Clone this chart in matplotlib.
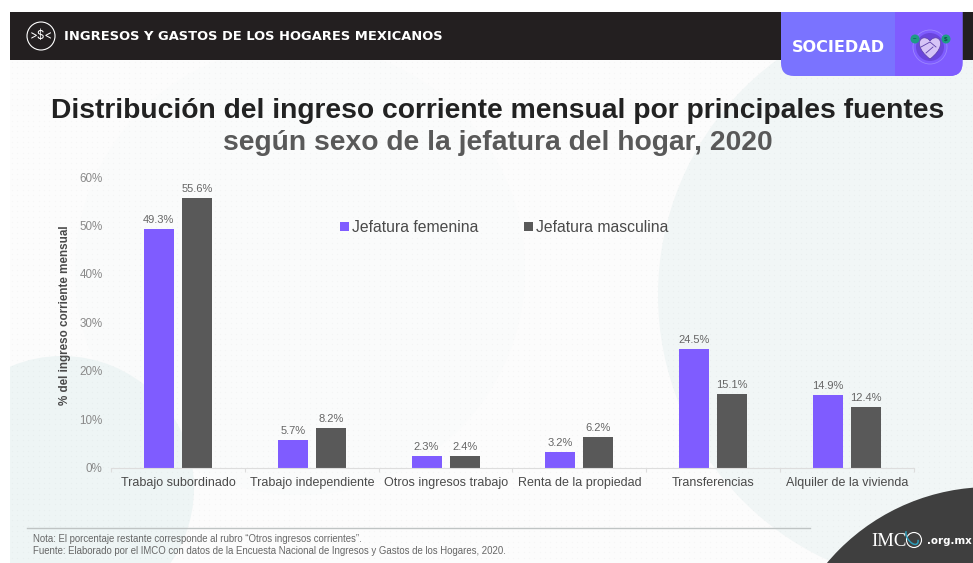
import matplotlib
matplotlib.use("Agg")
import matplotlib.pyplot as plt
from matplotlib.patches import Circle, Rectangle, FancyBboxPatch, Arc, PathPatch
from matplotlib.path import Path
import numpy as np

plt.rcParams['font.family'] = ['Liberation Sans', 'DejaVu Sans']

categories = ["Trabajo subordinado", "Trabajo independiente", "Otros ingresos trabajo",
              "Renta de la propiedad", "Transferencias", "Alquiler de la vivienda"]
jefatura_femenina = [49.3, 5.7, 2.3, 3.2, 24.5, 14.9]
jefatura_masculina = [55.6, 8.2, 2.4, 6.2, 15.1, 12.4]
y_ticks = [0, 10, 20, 30, 40, 50, 60]

PURPLE = "#7F5CFF"
GRAY = "#595959"
W, H = 973, 563

fig = plt.figure(figsize=(W / 100, H / 100), dpi=100, facecolor="white")

# Page layer in pixel coordinates, y pointing down
bg = fig.add_axes([0, 0, 1, 1], zorder=0)
bg.set_xlim(0, W)
bg.set_ylim(H, 0)
bg.axis("off")

page = Rectangle((10, 12), W - 10, H - 12, fc="#FCFCFC", ec="none")
bg.add_patch(page)
for (cx, cy, r, col) in [(300, 270, 225, "#FAFBFB"), (950, 295, 292, "#F1F6F6"),
                         (62, 488, 132, "#EEF5F5")]:
    c = Circle((cx, cy), r, fc=col, ec="none")
    bg.add_patch(c)
    c.set_clip_path(page)

# Faint dotted texture across the page
gx, gy = np.meshgrid(np.arange(12, W, 5.33), np.arange(62, H, 5.33))
bg.scatter(gx.ravel(), gy.ravel(), s=1.0, c="#000000", alpha=0.022, linewidths=0)

# Header band
bg.add_patch(Rectangle((10, 12), W - 10, 47.5, fc="#231F20", ec="none"))
bg.add_patch(Circle((41, 36), 14, fc="none", ec="white", lw=0.8))
bg.text(41, 36, ">$<", color="white", fontsize=8.5, ha="center", va="center", family="Inter")
bg.text(64, 36.5, "INGRESOS Y GASTOS DE LOS HOGARES MEXICANOS", color="white",
        fontsize=9.35, fontweight="bold", family="DejaVu Sans", va="center", ha="left")

# Section tab
tab = FancyBboxPatch((781, -10), 181.5, 86, boxstyle="round,pad=0,rounding_size=13",
                     fc="#7A73FF", ec="none", mutation_aspect=1)
bg.add_patch(tab)
dark_tab = Rectangle((895, 12), 70, 65, fc="#7F5CFF", ec="none")
bg.add_patch(dark_tab)
dark_tab.set_clip_path(tab)
bg.add_patch(Rectangle((760, 0), 213, 12, fc="white", ec="none"))
bg.text(838, 47, "SOCIEDAD", color="white", fontsize=11.6, fontweight="bold",
        family="DejaVu Sans", ha="center", va="center")

# Handshake badge: rings, heart and two coins
bg.add_patch(Circle((930, 47), 17, fc="none", ec="#9C86FF", lw=0.6))
bg.add_patch(Circle((930, 47), 14, fc="#6A45DD", ec="none"))
heart = Path([(930, 59), (918, 50), (917, 40), (923, 38), (928, 37), (930, 41), (930, 41),
              (930, 41), (932, 37), (937, 38), (943, 40), (942, 50), (930, 59)],
             [Path.MOVETO, Path.CURVE4, Path.CURVE4, Path.CURVE4, Path.CURVE4, Path.CURVE4, Path.CURVE4,
              Path.CURVE4, Path.CURVE4, Path.CURVE4, Path.CURVE4, Path.CURVE4, Path.CURVE4])
bg.add_patch(PathPatch(heart, fc="#D6C4F7", ec="#5B3FA8", lw=0.5))
bg.plot([921, 930, 936], [47, 42, 47], color="#5B3FA8", lw=0.6)
bg.plot([926, 933], [53, 47], color="#5B3FA8", lw=0.6)
for cx, mark in [(915, "\u2013"), (946, "$")]:
    bg.add_patch(Circle((cx, 39), 4.5, fc="#1E9C85", ec="none"))
    bg.text(cx, 39, mark, color="#0D4F45", fontsize=4.5, fontweight="bold", ha="center", va="center")

# Titles
bg.text(498, 111, "Distribución del ingreso corriente mensual por principales fuentes",
        fontsize=20.3, fontweight="bold", color="#222222", ha="center", va="center")
bg.text(498, 143.5, "según sexo de la jefatura del hogar, 2020",
        fontsize=20.3, fontweight="bold", color="#595959", ha="center", va="center")

# Footer
bg.plot([27, 810], [527.5, 527.5], color="#BFC4C4", lw=1)
bg.text(33, 539.5, "Nota: El porcentaje restante corresponde al rubro \u201cOtros ingresos corrientes\u201d.",
        fontsize=6.97, color="#666666", va="center")
bg.text(33, 551, "Fuente: Elaborado por el IMCO con datos de la Encuesta Nacional de Ingresos y Gastos de los Hogares, 2020.",
        fontsize=6.97, color="#666666", va="center")

# Dark corner with the site mark
corner = Circle((990, 700), 213, fc="#3F3F3F", ec="none")
bg.add_patch(corner)
corner.set_clip_path(page)
bg.text(871, 541, "IMC", color="white", fontsize=13.5, family="Liberation Serif", va="center", ha="left")
bg.add_patch(Circle((914, 540), 7.5, fc="none", ec="white", lw=0.8))
bg.add_patch(Arc((912, 537), 9, 17, angle=-35, theta1=60, theta2=260, ec="#2D9CB8", lw=1.1))
bg.text(927, 541, ".org.mx", color="white", fontsize=7.4, fontweight="bold", family="DejaVu Sans",
        va="center", ha="left")

# Bar chart on the plot area
left, right, top, bottom = 111, 914, 177, 467.5
ax = fig.add_axes([left / W, 1 - bottom / H, (right - left) / W, (bottom - top) / H], zorder=1)
ax.patch.set_alpha(0)
x = np.arange(len(categories))
step = (right - left) / len(categories)
bw = 30 / step
off = 19 / step
b1 = ax.bar(x - off, jefatura_femenina, bw, color=PURPLE, label="Jefatura femenina")
b2 = ax.bar(x + off, jefatura_masculina, bw, color=GRAY, label="Jefatura masculina")
for bars in (b1, b2):
    ax.bar_label(bars, fmt="%.1f%%", padding=3, fontsize=8, color="#666666")

ax.set_xlim(-0.5, len(categories) - 0.5)
ax.set_ylim(0, 60)
ax.set_yticks(y_ticks)
ax.set_yticklabels([f"{v}%" for v in y_ticks], fontsize=8.4, color="#8A8A8A")
ax.set_xticks(x)
ax.set_xticklabels(categories, fontsize=9, color="#4A4A4A")
ax.set_xticks(np.arange(len(categories) + 1) - 0.5, minor=True)
ax.tick_params(axis="x", which="major", length=0, pad=7)
ax.tick_params(axis="x", which="minor", length=3, color="#DDDDDD", width=0.8)
ax.tick_params(axis="y", length=0, pad=6)
for side in ("top", "right", "left"):
    ax.spines[side].set_visible(False)
ax.spines["bottom"].set_color("#DDDDDD")
ax.spines["bottom"].set_linewidth(0.8)
ax.set_ylabel("% del ingreso corriente mensual", fontsize=8.4, fontweight="bold", color="#4A4A4A")
ax.yaxis.set_label_coords((71 - left) / (right - left), (bottom - 315) / (bottom - top))

ax.legend(loc="upper left", bbox_to_anchor=((340 - left) / (right - left), 1 - (230 - top - 10) / (bottom - top)),
          ncol=2, frameon=False, fontsize=11.3, handlelength=0.55, handleheight=0.5,
          handletextpad=0.2, columnspacing=2.95, labelcolor="#4A4A4A", borderpad=0, borderaxespad=0)

fig.savefig("out.png", dpi=100, facecolor="white")
